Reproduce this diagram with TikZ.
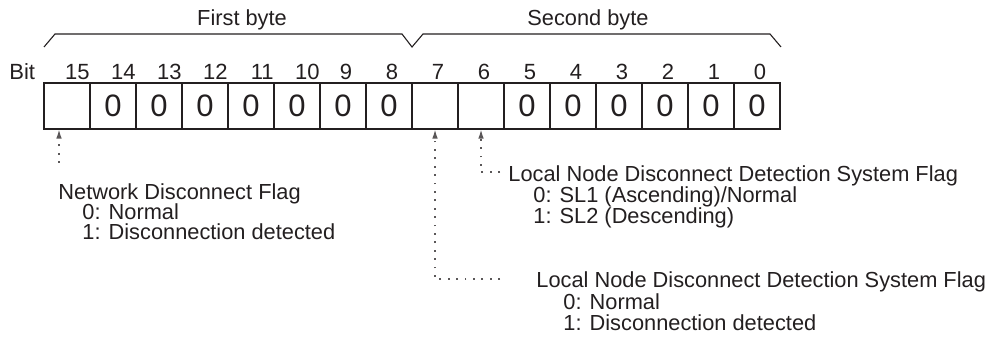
\documentclass[tikz,border=0pt]{standalone}
\usepackage{fontspec}
\setmainfont{Liberation Sans}
\usetikzlibrary{positioning, arrows.meta, calc}
\definecolor{ink}{HTML}{231F20}

\begin{document}
\begin{tikzpicture}[x=0.5pt, y=-0.5pt, >={Latex[length=4.5pt, width=2.8pt]},
  cell/.style={draw=ink, line width=0.55pt, minimum size=23pt, inner sep=0pt,
    font=\fontsize{15.5}{15.5}\selectfont, text=ink},
  bitnum/.style={inner sep=0pt, font=\fontsize{11}{12}\selectfont, text=ink},
  note/.style={inner sep=0pt, font=\fontsize{10.9}{12}\selectfont, text=ink},
  flagline/.style={ink!75, line width=0.65pt, dash pattern=on 0.9pt off 3.3pt}]

\useasboundingbox (0,0) rectangle (991,340);

% --- Byte brackets ---
\node[note, anchor=base] (first) at (242,26) {First byte};
\node[note, anchor=base] (second) at (588,26) {Second byte};
\draw[ink, line width=0.55pt] (44,47) -- (55,34) -- (402,34) -- (412,47)
  -- (423,34) -- (770,34) -- (781,47);

% --- Bit numbers ---
\node[bitnum, anchor=base west] (bit) at (9,80) {Bit};
\node[bitnum, anchor=base east] (b15) at (90,80) {15};
\node[bitnum, anchor=base east] (b14) at (136,80) {14};
\node[bitnum, anchor=base east] (b13) at (182,80) {13};
\node[bitnum, anchor=base east] (b12) at (228,80) {12};
\node[bitnum, anchor=base east] (b11) at (274,80) {11};
\node[bitnum, anchor=base east] (b10) at (320,80) {10};
\node[bitnum, anchor=base] (b9) at (346,80) {9};
\node[bitnum, anchor=base] (b8) at (392,80) {8};
\node[bitnum, anchor=base] (b7) at (438,80) {7};
\node[bitnum, anchor=base] (b6) at (484,80) {6};
\node[bitnum, anchor=base] (b5) at (530,80) {5};
\node[bitnum, anchor=base] (b4) at (576,80) {4};
\node[bitnum, anchor=base] (b3) at (622,80) {3};
\node[bitnum, anchor=base] (b2) at (668,80) {2};
\node[bitnum, anchor=base] (b1) at (714,80) {1};
\node[bitnum, anchor=base] (b0) at (760,80) {0};

% --- Word cells ---
\node[cell] (c15) at (67,106) {};
\node[cell] (c14) at (113,106) {0};
\node[cell] (c13) at (159,106) {0};
\node[cell] (c12) at (205,106) {0};
\node[cell] (c11) at (251,106) {0};
\node[cell] (c10) at (297,106) {0};
\node[cell] (c9) at (343,106) {0};
\node[cell] (c8) at (389,106) {0};
\node[cell] (c7) at (435,106) {};
\node[cell] (c6) at (481,106) {};
\node[cell] (c5) at (527,106) {0};
\node[cell] (c4) at (573,106) {0};
\node[cell] (c3) at (619,106) {0};
\node[cell] (c2) at (665,106) {0};
\node[cell] (c1) at (711,106) {0};
\node[cell] (c0) at (757,106) {0};

% --- Flag descriptions ---
\node[note, anchor=base west] (netflag) at (58,200) {Network Disconnect Flag};
\node[note, anchor=base west] (net0) at (82,220) {0: Normal};
\node[note, anchor=base west] (net1) at (82,240) {1: Disconnection detected};

\node[note, anchor=base west] (sysflag) at (508,182)
  {Local Node Disconnect Detection System Flag};
\node[note, anchor=base west] (sys0) at (533,203) {0: SL1 (Ascending)/Normal};
\node[note, anchor=base west] (sys1) at (533,224) {1: SL2 (Descending)};

\node[note, anchor=base west] (detflag) at (536,288)
  {Local Node Disconnect Detection System Flag};
\node[note, anchor=base west] (det0) at (563,310) {0: Normal};
\node[note, anchor=base west] (det1) at (563,331) {1: Disconnection detected};

% --- Pointers ---
\coordinate (netend) at (59,163);
\coordinate (sysend) at (500,172);
\coordinate (detend) at (500,279);
\draw[flagline, ->] (netend) -- (netend |- c15.south);
\draw[flagline, ->] (sysend) -| (c6.south);
\draw[flagline, ->] (detend) -| (c7.south);

\end{tikzpicture}
\end{document}
